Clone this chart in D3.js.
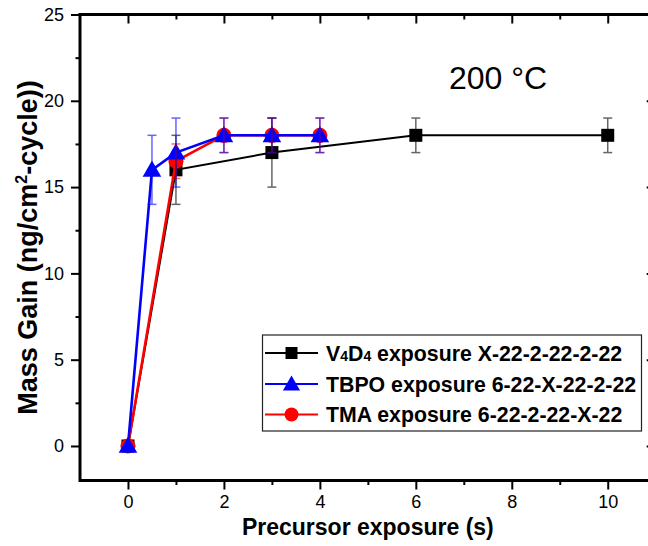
<!DOCTYPE html>
<html>
<head>
<meta charset="utf-8">
<script src="https://cdn.jsdelivr.net/npm/d3@7"></script>
<style>
  body { margin: 0; background: #fff; }
  svg { display: block; }
  text { font-family: "Liberation Sans", Arial, sans-serif; }
</style>
</head>
<body>
<svg id="chart" width="648" height="546"></svg>
<script>
// ---- Data ----
const v4d4X   = [0, 1, 3, 6, 10];
const v4d4Y   = [0, 16, 17, 18, 18];
const v4d4Err = [0, 2, 2, 1, 1];

const tbpoX   = [0, 0.5, 1, 2, 3, 4];
const tbpoY   = [0, 16, 17, 18, 18, 18];
const tbpoErr = [0, 2, 2, 1, 1, 1];

const tmaX    = [0, 1, 2, 3, 4];
const tmaY    = [0, 16.5, 18, 18, 18];
const tmaErr  = [0, 1, 1, 1, 1];

const xMajorTicks = [0, 2, 4, 6, 8, 10];
const xMinorTicks = [1, 3, 5, 7, 9];
const yMajorTicks = [0, 5, 10, 15, 20, 25];
const yMinorTicks = [2.5, 7.5, 12.5, 17.5, 22.5];

const legendLabels = [
  {pre: "V", sub1: "4", mid: "D", sub2: "4", rest: " exposure X-22-2-22-2-22"},
  {pre: "TBPO exposure 6-22-X-22-2-22"},
  {pre: "TMA exposure 6-22-2-22-X-22"}
];
const annotation = "200 °C";

// ---- Layout ----
const svg = d3.select("#chart");
const mLeft = 80, mRight = 655.7, mTop = 14.5, mBottom = 480.5;
const x = d3.scaleLinear().domain([-1, 11]).range([mLeft, mRight]);
const y = d3.scaleLinear().domain([-2, 25]).range([mBottom, mTop]);

const axisW = 3;

function drawAxis(axisGen, transform) {
  const g = svg.append("g").attr("transform", transform).call(axisGen);
  g.select(".domain").remove();
  g.selectAll("line").attr("stroke", "#000").attr("stroke-width", 2);
  return g;
}

// minor ticks (no labels)
drawAxis(d3.axisBottom(x).tickValues(xMinorTicks).tickSize(4.5).tickFormat(""), `translate(0,${mBottom})`);
drawAxis(d3.axisTop(x).tickValues(xMinorTicks).tickSize(-5).tickFormat(""), `translate(0,${mTop})`);
drawAxis(d3.axisLeft(y).tickValues(yMinorTicks).tickSize(4.5).tickFormat(""), `translate(${mLeft},0)`);
drawAxis(d3.axisRight(y).tickValues(yMinorTicks).tickSize(-5).tickFormat(""), `translate(${mRight},0)`);

// major ticks
const xb = drawAxis(d3.axisBottom(x).tickValues(xMajorTicks).tickSize(9).tickPadding(6).tickFormat(d3.format("d")), `translate(0,${mBottom})`);
xb.selectAll("text").attr("font-size", 18).attr("fill", "#000");
drawAxis(d3.axisTop(x).tickValues(xMajorTicks).tickSize(-9).tickFormat(""), `translate(0,${mTop})`);
const yl = drawAxis(d3.axisLeft(y).tickValues(yMajorTicks).tickSize(9).tickPadding(7).tickFormat(d3.format("d")), `translate(${mLeft},0)`);
yl.selectAll("text").attr("font-size", 18).attr("fill", "#000");
drawAxis(d3.axisRight(y).tickValues(yMajorTicks).tickSize(-9).tickFormat(""), `translate(${mRight},0)`);

// frame
svg.append("rect")
  .attr("x", mLeft).attr("y", mTop)
  .attr("width", mRight - mLeft).attr("height", mBottom - mTop)
  .attr("fill", "none").attr("stroke", "#000").attr("stroke-width", axisW);

// ---- Series ----
const line = d3.line().x(d => x(d.x)).y(d => y(d.y));
function pts(xs, ys, es) { return xs.map((v, i) => ({x: v, y: ys[i], e: es[i]})); }

const series = [
  {name: "v4d4", data: pts(v4d4X, v4d4Y, v4d4Err), color: "#000000", lw: 2, sym: d3.symbolSquare, size: 169, errColor: "#000000"},
  {name: "tma",  data: pts(tmaX, tmaY, tmaErr),   color: "#ff0000", lw: 2.6, sym: d3.symbolCircle, size: 180, errColor: "#ff0000"},
  {name: "tbpo", data: pts(tbpoX, tbpoY, tbpoErr), color: "#0000ff", lw: 2.6, sym: d3.symbolTriangle, size: 150, errColor: "#0000ff"}
];

series.forEach(s => {
  svg.append("path").datum(s.data)
    .attr("d", line).attr("fill", "none")
    .attr("stroke", s.color).attr("stroke-width", s.lw);
  svg.append("g").selectAll("path").data(s.data).join("path")
    .attr("transform", d => `translate(${x(d.x)},${y(d.y) + (s.sym === d3.symbolTriangle ? 1.5 : 0)})`)
    .attr("d", d3.symbol().type(s.sym).size(s.size))
    .attr("fill", s.color);
});

// error bars on top
series.forEach(s => {
  const g = svg.append("g").attr("stroke", s.errColor).attr("stroke-width", 1.5).attr("opacity", 0.6);
  const d = s.data.filter(p => p.e > 0);
  g.selectAll("line.v").data(d).join("line")
    .attr("x1", p => x(p.x)).attr("x2", p => x(p.x))
    .attr("y1", p => y(p.y - p.e)).attr("y2", p => y(p.y + p.e));
  g.selectAll("line.t").data(d).join("line")
    .attr("x1", p => x(p.x) - 4.5).attr("x2", p => x(p.x) + 4.5)
    .attr("y1", p => y(p.y + p.e)).attr("y2", p => y(p.y + p.e));
  g.selectAll("line.b").data(d).join("line")
    .attr("x1", p => x(p.x) - 4.5).attr("x2", p => x(p.x) + 4.5)
    .attr("y1", p => y(p.y - p.e)).attr("y2", p => y(p.y - p.e));
});

// ---- Annotation ----
svg.append("text")
  .attr("x", 498).attr("y", 89)
  .attr("text-anchor", "middle")
  .attr("font-family", "'Open Sans', sans-serif")
  .attr("font-size", 32)
  .attr("fill", "#000")
  .text(annotation);

// ---- Axis titles ----
svg.append("text")
  .attr("x", (mLeft + mRight) / 2).attr("y", 535)
  .attr("text-anchor", "middle")
  .attr("font-weight", "bold").attr("font-size", 23)
  .text("Precursor exposure (s)");

const yt = svg.append("text")
  .attr("transform", `translate(37,${(mTop + mBottom) / 2}) rotate(-90)`)
  .attr("text-anchor", "middle")
  .attr("font-weight", "bold").attr("font-size", 27);
yt.append("tspan").text("Mass Gain (ng/cm");
yt.append("tspan").attr("font-size", 16).attr("dy", -10).text("2");
yt.append("tspan").attr("dy", 10).text("-cycle))");

// ---- Legend ----
const lg = svg.append("g");
lg.append("rect")
  .attr("x", 262.5).attr("y", 335)
  .attr("width", 379).attr("height", 96)
  .attr("fill", "#fff").attr("stroke", "#222").attr("stroke-width", 1.2);

const legRows = [
  {s: series[0], label: legendLabels[0], yy: 353},
  {s: series[2], label: legendLabels[1], yy: 384},
  {s: series[1], label: legendLabels[2], yy: 414.5}
];
legRows.forEach(r => {
  lg.append("line").attr("x1", 265).attr("x2", 318).attr("y1", r.yy).attr("y2", r.yy)
    .attr("stroke", r.s.color).attr("stroke-width", 2);
  lg.append("path")
    .attr("transform", `translate(291.5,${r.yy + (r.s.sym === d3.symbolTriangle ? 1.5 : 0)})`)
    .attr("d", d3.symbol().type(r.s.sym).size(r.s.size * 0.85))
    .attr("fill", r.s.color);
  const t = lg.append("text").attr("x", 326).attr("y", r.yy + 7.5)
    .attr("font-weight", "bold").attr("font-size", 21.3).attr("fill", "#000");
  if (r.label.sub1) {
    t.append("tspan").text(r.label.pre);
    t.append("tspan").attr("font-size", 14).text(r.label.sub1);
    t.append("tspan").text(r.label.mid);
    t.append("tspan").attr("font-size", 14).text(r.label.sub2);
    t.append("tspan").text(r.label.rest);
  } else {
    t.text(r.label.pre);
  }
});
</script>
</body>
</html>
